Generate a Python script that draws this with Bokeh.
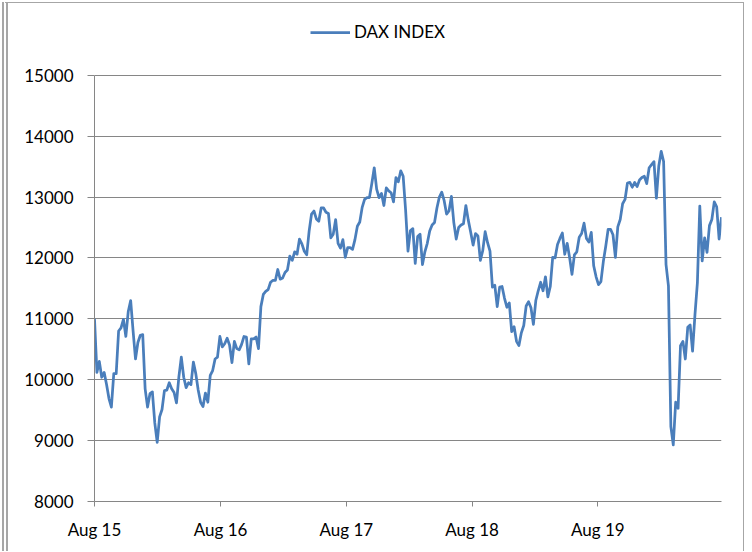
import pandas as pd
from bokeh.plotting import figure
from bokeh.models import (Range1d, FixedTicker, DatetimeTickFormatter, Legend, LegendItem)
from bokeh.embed import file_html
from bokeh.resources import INLINE

# ---- data (weekly closes) ----
series_name = "DAX INDEX"
first_week = "2015-08-14"
dax = [
    11000, 10120, 10300, 10040, 10120, 9920, 9690, 9550, 10100, 10100,
    10800, 10850, 10990, 10710, 11120, 11300, 10800, 10340, 10610, 10730,
    10740, 9850, 9550, 9770, 9800, 9290, 8970, 9390, 9510, 9820,
    9830, 9950, 9850, 9790, 9620, 10050, 10370, 10040, 9870, 9950,
    9920, 10290, 10100, 9830, 9630, 9560, 9780, 9630, 10070, 10150,
    10340, 10370, 10710, 10540, 10590, 10680, 10570, 10280, 10630, 10510,
    10490, 10580, 10710, 10700, 10260, 10670, 10670, 10700, 10510, 11200,
    11400, 11450, 11480, 11600, 11630, 11630, 11810, 11650, 11670, 11760,
    11800, 12030, 11960, 12100, 12060, 12310, 12230, 12110, 12050, 12440,
    12720, 12770, 12640, 12600, 12820, 12820, 12750, 12730, 12330, 12390,
    12630, 12240, 12160, 12300, 12010, 12170, 12170, 12140, 12300, 12520,
    12590, 12830, 12960, 12990, 12990, 13220, 13480, 13130, 12990, 13060,
    12860, 13150, 13100, 13070, 12920, 13320, 13250, 13430, 13340, 12790,
    12110, 12450, 12480, 11910, 12350, 12390, 11890, 12100, 12240, 12440,
    12540, 12580, 12820, 13000, 13080, 12940, 12720, 12770, 13010, 12580,
    12310, 12500, 12540, 12560, 12860, 12620, 12420, 12210, 12400, 12360,
    11960, 12120, 12430, 12250, 12110, 11520, 11550, 11200, 11520, 11530,
    11340, 11190, 11260, 10790, 10870, 10630, 10560, 10770, 10890, 11210,
    11280, 11180, 10910, 11300, 11460, 11600, 11460, 11690, 11360, 11530,
    12010, 12000, 12220, 12320, 12410, 12060, 12240, 12010, 11730, 12050,
    12100, 12340, 12400, 12570, 12320, 12260, 12420, 11870, 11690, 11560,
    11610, 11940, 12190, 12470, 12470, 12380, 12010, 12510, 12630, 12890,
    12960, 13230, 13240, 13160, 13240, 13170, 13280, 13320, 13340, 13220,
    13480, 13530, 13580, 12980, 13510, 13750, 13580, 11890, 11540, 9230,
    8930, 9630, 9530, 10560, 10630, 10340, 10860, 10900, 10470, 11070,
    11590, 12850, 11950, 12330, 12090, 12530, 12630, 12920, 12840, 12310,
    12670,
]
y_ticks = [8000, 9000, 10000, 11000, 12000, 13000, 14000, 15000]
y_min, y_max = 8000, 15000
x_tick_dates = ["2015-08-14", "2016-08-14", "2017-08-14", "2018-08-14", "2019-08-14"]

dates = pd.date_range(first_week, periods=len(dax), freq="7D")

FONT = "Lato"
GRID = "#868686"
LINE = "#4A7EBB"
FRAME = "#a6a6a6"

# the plotting frame reaches the top of the canvas so that the legend
# (drawn inside the frame) can sit above the 15000 line; the axis itself
# is bounded to 8000..15000
frame_top_px, frame_bottom_px = 3, 501
px_per_unit = (501 - 74.7) / (y_max - y_min)
y_top = y_min + (frame_bottom_px - frame_top_px) / px_per_unit

p = figure(width=742, height=549, x_axis_type="datetime",
           output_backend="svg", toolbar_location=None,
           x_range=Range1d(dates[0], dates[-1]), y_range=Range1d(y_min, y_top),
           min_border_left=86, min_border_right=29, min_border_top=0, min_border_bottom=51)
p.styles = {"margin-left": "2px", "margin-top": "2px",
            "border-left": f"6px double {FRAME}",
            "border-top": f"1px solid {FRAME}",
            "border-right": f"1px solid {FRAME}"}
p.outline_line_color = None
p.background_fill_color = "white"
p.border_fill_color = "white"

r = p.line(dates, dax, line_color=LINE, line_width=2.75, line_join="round")

# y axis
p.yaxis.ticker = FixedTicker(ticks=y_ticks)
p.yaxis.bounds = (y_min, y_max)
p.yaxis.axis_line_color = GRID
p.yaxis.major_tick_line_color = GRID
p.yaxis.major_tick_out = 7
p.yaxis.major_tick_in = 0
p.yaxis.minor_tick_line_color = None
p.yaxis.major_label_standoff = 14
p.yaxis.major_label_text_font = FONT
p.yaxis.major_label_text_font_size = "17px"
p.yaxis.major_label_text_color = "black"

# x axis
xt = [pd.Timestamp(d).value / 1e6 for d in x_tick_dates]
p.xaxis.ticker = FixedTicker(ticks=xt)
fmt = "%b %y"
p.xaxis.formatter = DatetimeTickFormatter(
    microseconds=fmt, milliseconds=fmt, seconds=fmt, minsec=fmt, minutes=fmt,
    hourmin=fmt, hours=fmt, days=fmt, months=fmt, years=fmt)
p.xaxis.axis_line_color = GRID
p.xaxis.major_tick_line_color = GRID
p.xaxis.major_tick_out = 5
p.xaxis.major_tick_in = 0
p.xaxis.minor_tick_line_color = None
p.xaxis.major_label_standoff = 12
p.xaxis.major_label_text_font = FONT
p.xaxis.major_label_text_font_size = "17px"
p.xaxis.major_label_text_color = "black"

# grid
p.xgrid.grid_line_color = None
p.ygrid.ticker = FixedTicker(ticks=y_ticks)
p.ygrid.grid_line_color = GRID
p.ygrid.grid_line_width = 1

legend = Legend(items=[LegendItem(label=series_name, renderers=[r])],
                location=(216, 459), orientation="horizontal",
                padding=0, spacing=0, margin=0,
                border_line_color=None, background_fill_alpha=0,
                glyph_width=40, glyph_height=20, label_height=20,
                label_standoff=4, label_text_font=FONT,
                label_text_font_size="17px", label_text_color="black")
p.add_layout(legend, "center")

open("out.html", "w").write(file_html(p, INLINE))
